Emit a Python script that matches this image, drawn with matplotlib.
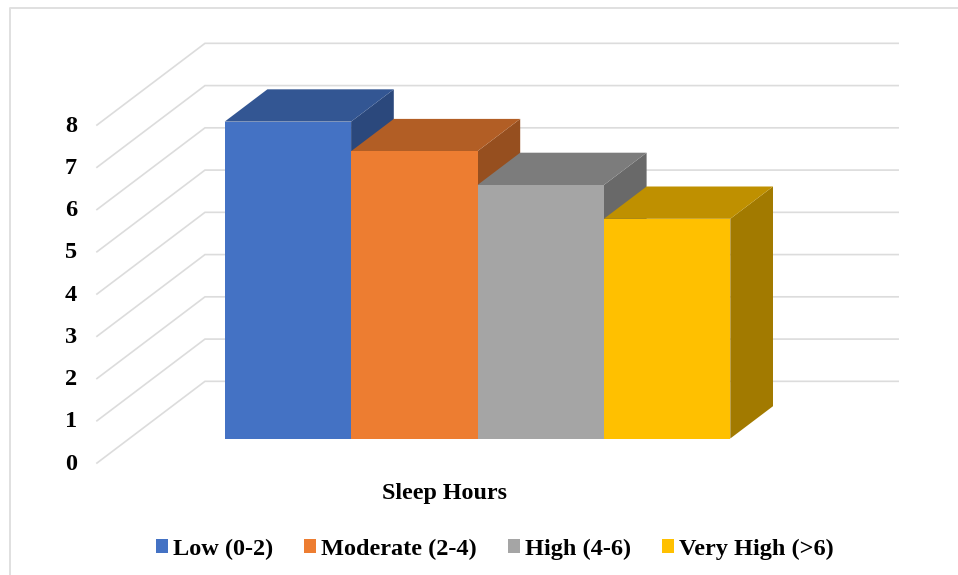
"""
Clustered 3D-look column chart of sleep hours, drawn on plain 2D axes.
"""

import matplotlib
matplotlib.use("Agg")
import matplotlib.pyplot as plt
from matplotlib.colors import to_rgb

categories = ["Low (0-2)", "Moderate (2-4)", "High (4-6)", "Very High (>6)"]
values = [7.5, 6.8, 6.0, 5.2]
colors = ["#4472C4", "#ED7D31", "#A5A5A5", "#FFC000"]
y_ticks = [0, 1, 2, 3, 4, 5, 6, 7, 8]
axis_title = "Sleep Hours"

# pixel layout of the bars' front plane
CAT_PX = 126.4
VAL_PX = 42.25
LEFT_PX = 224.7
ZERO_PX = 438.5
# one unit of depth (the depth of a bar) in data units
DEPTH_X = 42.7 / CAT_PX
DEPTH_Y = 32.3 / VAL_PX
# the walls around the bars
WALL_LEFT, WALL_RIGHT = -0.754, 4.73
DEPTH_FRONT, DEPTH_BACK = -0.76, 1.77
GRID = "#DCDCDC"

plt.rcParams["font.family"] = ["Liberation Serif", "DejaVu Serif"]
plt.rcParams["font.weight"] = "bold"


def project(cat, val, depth):
    """Oblique projection to the axes' data coordinates"""
    return cat + depth * DEPTH_X, val + depth * DEPTH_Y


def shade(color, factor):
    return tuple(c * factor for c in to_rgb(color))


fig = plt.figure(figsize=(9.58, 5.75), dpi=100)
ax = fig.add_axes([0, 0, 1, 1])
ax.set_xlim(-LEFT_PX / CAT_PX, (958 - LEFT_PX) / CAT_PX)
ax.set_ylim((ZERO_PX - 575) / VAL_PX, ZERO_PX / VAL_PX)
ax.axis("off")

# chart frame
fig.add_artist(plt.Line2D([9.5 / 958, 9.5 / 958, 1], [0, 567 / 575, 567 / 575],
                          color="#E0E0E0", lw=1.4))

# gridlines on side and back wall
for v in y_ticks:
    x0, y0 = project(WALL_LEFT, v, DEPTH_FRONT)
    x1, y1 = project(WALL_LEFT, v, DEPTH_BACK)
    x2, y2 = project(WALL_RIGHT, v, DEPTH_BACK)
    ax.plot([x0, x1, x2], [y0, y1, y2], color=GRID, lw=1.2, zorder=1,
            solid_joinstyle="miter")
    ax.annotate(str(v), (x0, y0), xytext=(-26, -1), textcoords="offset pixels",
                ha="center", va="center", fontsize=17.5, color="black")

handles = []
for i, (label, val, col) in enumerate(zip(categories, values, colors)):
    z = 2 + i
    side = [project(i + 1, 0, 0), project(i + 1, 0, 1),
            project(i + 1, val, 1), project(i + 1, val, 0)]
    top = [project(i, val, 0), project(i, val, 1),
           project(i + 1, val, 1), project(i + 1, val, 0)]
    ax.fill(*zip(*side), color=shade(col, 0.635), lw=0, zorder=z)
    ax.fill(*zip(*top), color=shade(col, 0.75), lw=0, zorder=z)
    bar = ax.bar(i, val, width=1, align="edge", color=col, lw=0, zorder=z,
                 label=label)
    handles.append(bar)

ax.text(1.74, -1.31, axis_title, ha="center", va="center", fontsize=17.3,
        color="black")

ax.legend(handles=handles, loc="center", bbox_to_anchor=(495 / 958, 1 - 549 / 575),
          ncol=4, frameon=False, fontsize=17.5, handlelength=0.49, handleheight=0.49,
          handletextpad=0.21, columnspacing=1.28, borderpad=0, labelcolor="black")

fig.savefig("out.png", dpi=100)
